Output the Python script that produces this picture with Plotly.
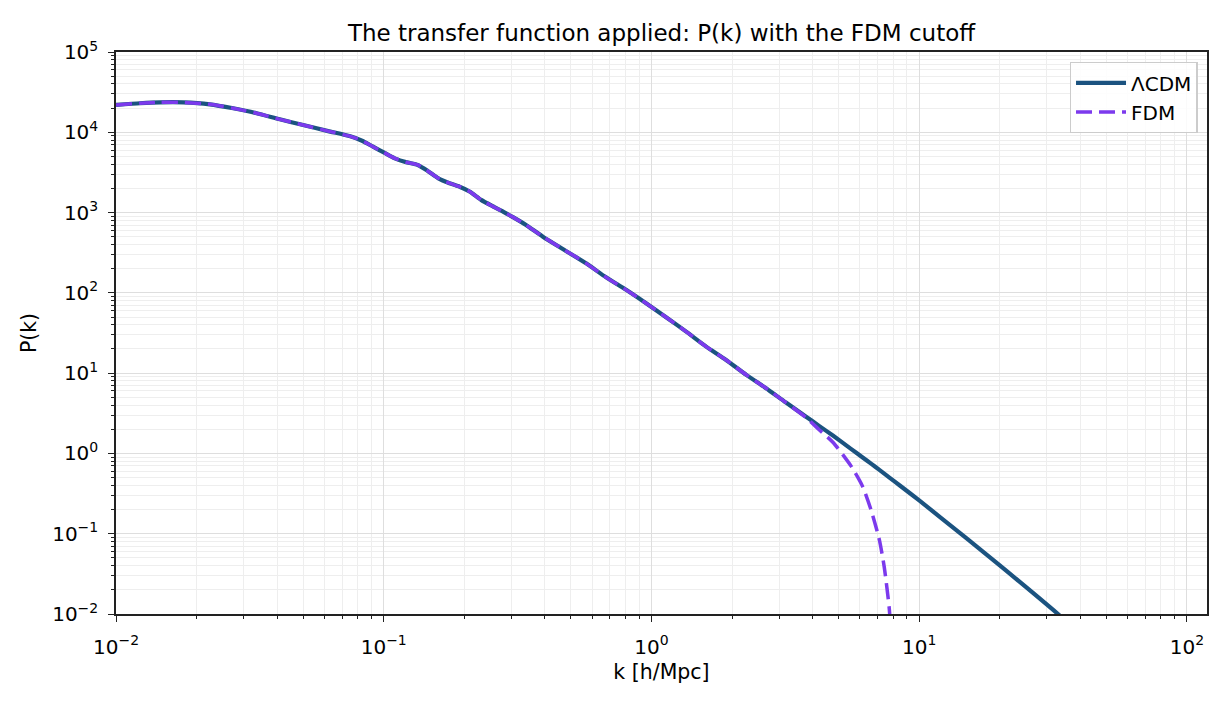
import plotly.graph_objects as go

# wavenumber k [h/Mpc] and LCDM power spectrum P(k)
k_lcdm = [0.0100, 0.0123, 0.0146, 0.0178, 0.0224, 0.0274, 0.0335, 0.0409, 0.0500,
          0.0620, 0.0750, 0.0830, 0.0912, 0.100, 0.110, 0.122, 0.134, 0.146, 0.160,
          0.176, 0.192, 0.210, 0.231, 0.255, 0.279, 0.305, 0.340, 0.393, 0.473,
          0.570, 0.677, 0.804, 0.955, 1.134, 1.348, 1.601, 1.90, 2.26, 2.68, 3.18,
          3.78, 4.24, 4.76, 5.56, 6.15, 6.61, 7.10, 7.72, 8.49, 10.0, 15.0, 20.0,
          31.9, 100.0]
p_lcdm = [2.19e4, 2.30e4, 2.36e4, 2.36e4, 2.23e4, 1.99e4, 1.73e4, 1.45e4, 1.23e4,
          1.035e4, 8.91e3, 7.85e3, 6.62e3, 5.62e3, 4.74e3, 4.22e3, 3.92e3, 3.30e3, 2.67e3,
          2.32e3, 2.10e3, 1.82e3, 1.44e3, 1.20e3, 1.03e3, 871, 701, 501, 342,
          233, 156, 109, 74.1, 49.7, 32.9, 21.4, 14.6, 9.51, 6.49, 4.30,
          2.87, 2.19, 1.67, 1.14, 0.891, 0.746, 0.624, 0.504, 0.396, 0.260, 0.0879, 0.0403,
          0.011, 4.0e-4]

# FDM follows LCDM at large scales, then drops at the cutoff
k_fdm_tail = [3.78, 4.24, 4.76, 5.56, 6.15, 6.61, 7.10, 7.40, 7.72, 7.90]
p_fdm_tail = [2.80, 1.96, 1.38, 0.70, 0.386, 0.198, 0.0838, 0.0389, 0.0123, 0.004]

n_shared = sum(1 for k in k_lcdm if k < k_fdm_tail[0])
k_fdm = k_lcdm[:n_shared] + k_fdm_tail
p_fdm = p_lcdm[:n_shared] + p_fdm_tail

decades = [-2, -1, 0, 1, 2, 3, 4, 5]
FONT = "DejaVu Sans"

# the page body has an 8px margin, so the figure is a bit smaller than the window
W, H = 1222, 697


def pow_label(e):
    return "10<sup>" + (str(e) if e >= 0 else "\u2212" + str(-e)) + "</sup>"


fig = go.Figure()
fig.add_trace(go.Scatter(
    x=k_lcdm, y=p_lcdm, mode="lines", name="ΛCDM",
    line=dict(color="#1b5380", width=4.2, shape="spline", smoothing=0.6),
))
fig.add_trace(go.Scatter(
    x=k_fdm, y=p_fdm, mode="lines", name="FDM",
    line=dict(color="#7c3aed", width=3.5, dash="16px,7px", shape="spline", smoothing=0.6),
))

axis_common = dict(
    type="log",
    tickmode="array",
    tickvals=[10.0 ** e for e in decades],
    ticktext=[pow_label(e) for e in decades],
    showline=True, linecolor="#222222", linewidth=1.5, mirror=True,
    ticks="outside", ticklen=6, tickwidth=1.3, tickcolor="#222222",
    showgrid=True, gridcolor="#dedede", gridwidth=0.8,
    minor=dict(dtick="D1", ticks="outside", ticklen=3.5, tickwidth=1,
               tickcolor="#222222", showgrid=True, gridcolor="#eeeeee", gridwidth=0.6),
    zeroline=False,
    automargin=False,
    tickfont=dict(family=FONT, size=20, color="#000000"),
)

fig.update_layout(
    width=W, height=H,
    margin=dict(l=108, r=23, t=44, b=91),
    paper_bgcolor="white", plot_bgcolor="white",
    font=dict(family=FONT, size=20, color="#000000"),
    title=dict(text="The transfer function applied: P(k) with the FDM cutoff",
               x=(108 + W - 23) / 2 / W, xanchor="center", y=1 - 25 / H, yanchor="middle",
               automargin=False, font=dict(family=FONT, size=23)),
    xaxis=dict(axis_common, range=[-2, 2.075], ticklabelstandoff=8,
               title=dict(text="k [h/Mpc]", font=dict(family=FONT, size=20.5), standoff=7)),
    yaxis=dict(axis_common, range=[-2, 5], ticklabelstandoff=6,
               title=dict(text="P(k)", font=dict(family=FONT, size=20.5), standoff=10)),
    legend=dict(x=0.9915, y=0.982, xanchor="right", yanchor="top",
                bgcolor="rgba(255,255,255,0.85)", bordercolor="#cccccc", borderwidth=1.3,
                font=dict(family=FONT, size=20), itemwidth=50),
    showlegend=True,
)

fig.write_html("out.html")
